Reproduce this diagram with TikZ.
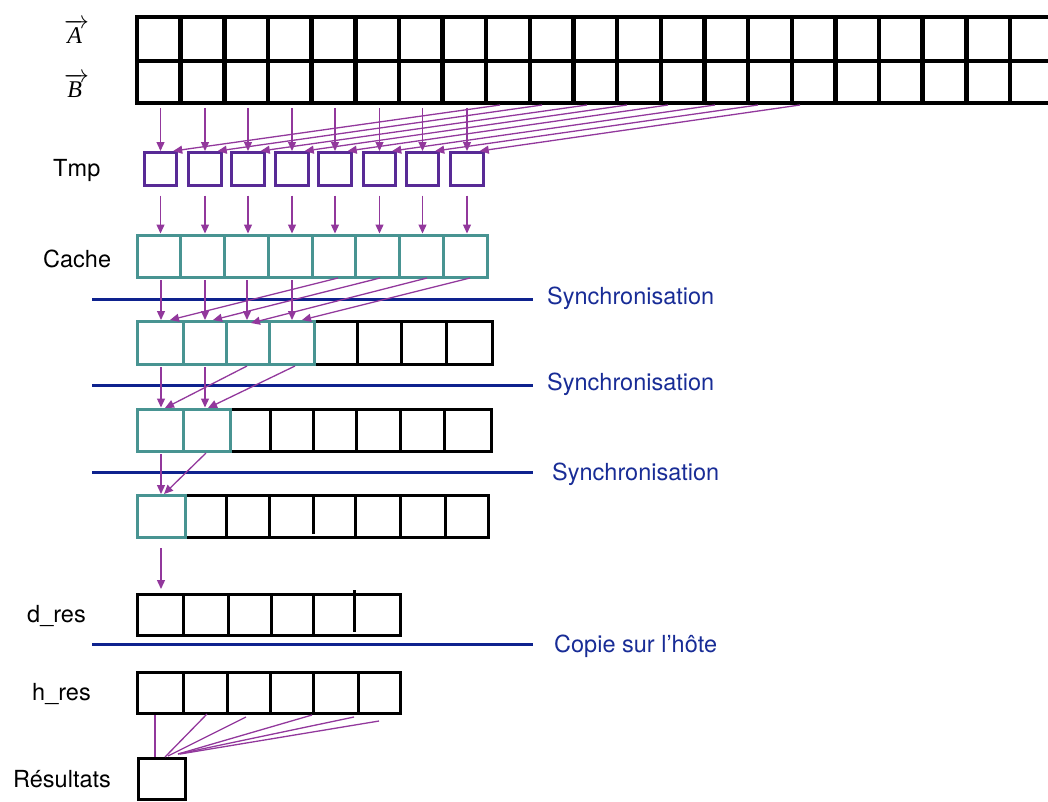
\documentclass[tikz,border=0pt]{standalone}
\usepackage{fontspec}
\setmainfont{TeX Gyre Heros}
\newfontfamily\timesf{Liberation Serif}
\usetikzlibrary{arrows.meta,calc}
\definecolor{arrc}{RGB}{146,56,156}
\definecolor{tmpc}{RGB}{88,42,150}
\definecolor{tealc}{RGB}{72,148,146}
\definecolor{syncc}{RGB}{14,34,142}
\definecolor{synct}{RGB}{24,44,150}
\begin{document}
\begin{tikzpicture}[x=1pt,y=-1pt,
  abcell/.style={draw=black,line width=4.5pt,minimum width=43.65pt,inner sep=0pt},
  cell/.style={draw=black,line width=3pt,inner sep=0pt},
  tcell/.style={cell,draw=tealc},
  tmpbox/.style={draw=tmpc,line width=3pt,minimum size=32.5pt,inner sep=0pt},
  arr/.style={draw=arrc,line width=1.3pt,-{Triangle[length=9pt,width=8pt]}},
  link/.style={draw=arrc,line width=1.3pt},
  syncline/.style={draw=syncc,line width=3pt},
  lbl/.style={anchor=base west,inner sep=0pt,font=\fontsize{23.5}{28}\selectfont},
  synclbl/.style={lbl,text=synct}]
\useasboundingbox (0,0) rectangle (1048,801);
\clip (0,0) rectangle (1048,801);

% ---- vectors A and B ----
\node[anchor=base west,inner sep=0pt] (la) at (64,43) {\fontsize{24}{28}\selectfont$\overrightarrow{\mbox{\timesf\itshape A\,}}$};
\node[anchor=base west,inner sep=0pt] (lb) at (64,97) {\fontsize{24}{28}\selectfont$\overrightarrow{\mbox{\timesf\itshape B\,}}$};
\foreach \i in {0,...,21}{
  \node[abcell,minimum height=44pt] (a\i) at ({137+43.65*(\i+0.5)},39) {};
  \node[abcell,minimum height=42pt] (b\i) at ({137+43.65*(\i+0.5)},82) {};
}

% ---- Tmp ----
\node[lbl] (ltmp) at (53,176) {Tmp};
\foreach \x [count=\i from 0] in {160.5,205,248,292,335,379.5,422.5,467}{
  \node[tmpbox] (t\i) at (\x,168.75) {};
  \coordinate (sv\i) at (\x,108);
  \draw[arr] (sv\i) -- (t\i.north);
}
\foreach \x [count=\i from 0] in {500,542,587,627,668,715,758,800}{
  \coordinate (sd\i) at (\x,105);
  \draw[arr] (sd\i) -- ($(t\i.north east)+(-5,0)$);
}

% ---- Cache ----
\node[lbl] (lcache) at (43,267) {Cache};
\foreach \i in {0,...,7}{
  \node[tcell,minimum width=43.75pt,minimum height=42pt] (c\i) at ({137+43.75*(\i+0.5)},256) {};
}
\foreach \i in {0,...,7}{
  \draw[arr,shorten <=9pt] (t\i.south) -- (t\i.south |- c\i.north);
}

% ---- sync 1 ----
\coordinate (s1a) at (92,299); \coordinate (s1b) at (533,299);
\draw[syncline] (s1a) -- (s1b);
\node[synclbl] (sy1) at (547,304) {Synchronisation};

% ---- row 2 ----
\foreach \a/\b/\i in {314/357/4,357/401/5,401/446/6,446/492/7}{
  \node[cell,minimum width={(\b-\a)*1pt},minimum height=43pt] (r2-\i) at ({(\a+\b)/2},343) {};
}
\foreach \a/\b/\i in {137/183/0,183/226/1,226/269/2,269/314/3}{
  \node[tcell,minimum width={(\b-\a)*1pt},minimum height=43pt] (r2-\i) at ({(\a+\b)/2},343) {};
}
\foreach \x/\i in {161/0,205/1,247/2,292/3}{
  \coordinate (u\i) at (\x,280);
  \draw[arr] (u\i) -- (u\i |- r2-\i.north);
}
\coordinate (d0) at (338,278); \coordinate (e0) at (170,320);
\coordinate (d1) at (380,278); \coordinate (e1) at (213,320);
\coordinate (d2) at (427,278); \coordinate (e2) at (251,323);
\coordinate (d3) at (470,278); \coordinate (e3) at (302,320);
\foreach \i in {0,...,3}{ \draw[arr] (d\i) -- (e\i); }

% ---- sync 2 ----
\coordinate (s2a) at (92,385); \coordinate (s2b) at (533,385);
\draw[syncline] (s2a) -- (s2b);
\node[synclbl] (sy2) at (547,390) {Synchronisation};

% ---- row 3 ----
\foreach \a/\b/\i in {230/270/2,270/313/3,313/356/4,356/400/5,400/444/6,444/491/7}{
  \node[cell,minimum width={(\b-\a)*1pt},minimum height=42pt] (r3-\i) at ({(\a+\b)/2},430) {};
}
\foreach \a/\b/\i in {137/183/0,183/230/1}{
  \node[tcell,minimum width={(\b-\a)*1pt},minimum height=42pt] (r3-\i) at ({(\a+\b)/2},430) {};
}
\foreach \x/\i in {161/0,205/1}{
  \coordinate (v\i) at (\x,367);
  \draw[arr] (v\i) -- (v\i |- r3-\i.north);
}
\coordinate (f0) at (247,366); \coordinate (g0) at (165,408);
\coordinate (f1) at (295,366); \coordinate (g1) at (208,408);
\foreach \i in {0,1}{ \draw[arr] (f\i) -- (g\i); }

% ---- sync 3 ----
\coordinate (s3a) at (92,472); \coordinate (s3b) at (533,472);
\draw[syncline] (s3a) -- (s3b);
\node[synclbl] (sy3) at (552,480) {Synchronisation};

% ---- row 4 ----
\foreach \a/\b/\i in {185/226/1,226/269/2,269/355/3,355/400/4,400/445/5,445/488/6}{
  \node[cell,minimum width={(\b-\a)*1pt},minimum height=42pt] (r4-\i) at ({(\a+\b)/2},516.5) {};
}
\coordinate (r4st) at (313,496); \coordinate (r4sb) at (313,534);
\draw[black,line width=3pt] (r4st) -- (r4sb);
\node[tcell,minimum width=48pt,minimum height=42pt] (r4-0) at (161,516.5) {};
\coordinate (w0) at (161,454);
\draw[arr] (w0) -- (w0 |- r4-0.north);
\coordinate (w1) at (206,453); \coordinate (w2) at (164,494);
\draw[arr] (w1) -- (w2);

% ---- d_res ----
\node[lbl] (ldres) at (27,622) {d\_res};
\foreach \a/\b/\i in {137/183/0,183/228/1,228/271/2,271/313/3,313/400/4}{
  \node[cell,minimum width={(\b-\a)*1pt},minimum height=41pt] (dr-\i) at ({(\a+\b)/2},614.5) {};
}
\coordinate (drst) at (354,590); \coordinate (drsb) at (354,632);
\draw[black,line width=3pt] (drst) -- (drsb);
\coordinate (x0) at (161,548); \coordinate (x1) at (161,589);
\draw[arr] (x0) -- (x1);

% ---- copy line ----
\coordinate (s4a) at (92,644); \coordinate (s4b) at (533,644);
\draw[syncline] (s4a) -- (s4b);
\node[synclbl] (sy4) at (554,652) {Copie sur l’hôte};

% ---- h_res ----
\node[lbl] (lhres) at (32,700) {h\_res};
\foreach \a/\b/\i in {137/183/0,183/227/1,227/270/2,270/313/3,313/358/4,358/400/5}{
  \node[cell,minimum width={(\b-\a)*1pt},minimum height=41pt] (hr-\i) at ({(\a+\b)/2},692.5) {};
}

% ---- Résultats ----
\node[lbl] (lres) at (13,787) {Résultats};
\node[cell,minimum width=47pt,minimum height=41pt] (res) at (161.5,779) {};
\coordinate (h0) at (155,715); \coordinate (k0) at (155,757);
\coordinate (h1) at (207,714); \coordinate (k1) at (165,757);
\coordinate (h2) at (246,717); \coordinate (k2) at (168,756);
\coordinate (h3) at (312,715); \coordinate (k3) at (178,754);
\coordinate (h4) at (354,717); \coordinate (k4) at (178,754);
\coordinate (h5) at (379,721); \coordinate (k5) at (180,754);
\foreach \i in {0,...,5}{ \draw[link] (h\i) -- (k\i); }
\end{tikzpicture}
\end{document}
